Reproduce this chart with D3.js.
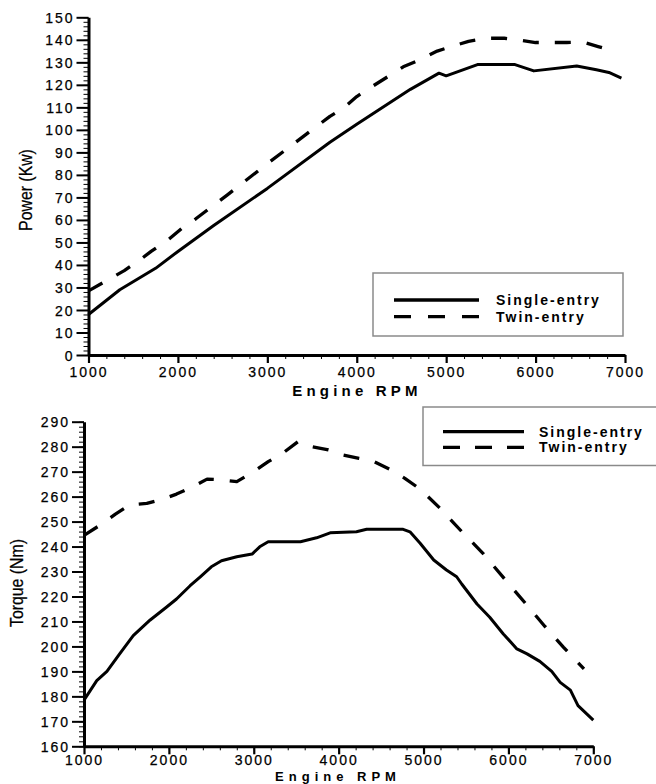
<!DOCTYPE html>
<html>
<head>
<meta charset="utf-8">
<script src="https://cdn.jsdelivr.net/npm/d3@7"></script>
<style>
  body { margin: 0; background: #fff; }
  svg { display: block; }
  text { font-family: "Liberation Sans", Arial, sans-serif; fill: #000; }
</style>
</head>
<body>
<svg id="chart" width="656" height="784"></svg>
<script>
// ---- Engine power (kW) versus engine speed ----
const powerRpmSingle = [1000, 1350, 1750, 2000, 2400, 3000, 3700, 4000, 4600, 4920, 5000, 5350, 5770, 5980, 6460, 6680, 6820, 6960];
const powerSingle    = [18, 29, 38.5, 46, 57.5, 74, 94.5, 102.5, 118, 125.2, 124, 129, 129, 126.2, 128.4, 126.7, 125.5, 123];

const powerRpmTwin = [1000, 1200, 1400, 1550, 1700, 1900, 2050, 2200, 2400, 2550, 3000, 3400, 3700, 3850, 4000, 4170, 4350, 4520, 4700, 4900, 5100, 5250, 5450, 5650, 5800, 6000, 6200, 6350, 6530, 6700, 6900];
const powerTwin    = [28.5, 33, 37.5, 41.5, 46, 51.5, 56.5, 60.5, 66.5, 71, 85, 97, 106, 109.6, 114.8, 119.2, 123.7, 128, 131, 135, 137.5, 139.3, 140.7, 140.7, 140, 138.8, 138.8, 138.8, 139, 137, 134.8];

// ---- Engine torque (Nm) versus engine speed ----
const torqueRpmSingle = [1000, 1150, 1270, 1420, 1580, 1780, 1970, 2090, 2250, 2370, 2500, 2620, 2800, 2980, 3070, 3170, 3550, 3740, 3900, 4210, 4330, 4760, 4840, 4960, 5120, 5270, 5390, 5450, 5630, 5780, 5940, 6100, 6220, 6370, 6510, 6610, 6730, 6820, 7000];
const torqueSingle    = [178.5, 186.3, 190, 197, 204.3, 210.6, 215.7, 219, 224.3, 227.9, 231.9, 234.3, 235.9, 237, 239.9, 241.9, 241.9, 243.5, 245.5, 245.9, 246.9, 246.9, 245.9, 241.3, 234.6, 230.6, 227.9, 225, 217, 211.7, 205, 199, 197, 194, 190, 185.6, 182.5, 176.3, 170.5];

const torqueRpmTwin = [1000, 1190, 1370, 1540, 1740, 1920, 2090, 2270, 2450, 2620, 2800, 3000, 3170, 3350, 3520, 3680, 3880, 4050, 4240, 4400, 4600, 4780, 4960, 5190, 5450, 5700, 5980, 6220, 6430, 6650, 6890];
const torqueTwin    = [244.5, 248.6, 253, 256.7, 257.3, 258.9, 261, 263.7, 267, 266.7, 266, 270, 274, 277.6, 282, 280, 278.7, 276.7, 275.3, 274.3, 271, 267.3, 263, 255.5, 246, 237.3, 226, 216.5, 208, 199.6, 191];

const rpmDomain = [1000, 7000];
const rpmMajorTicks = [1000, 2000, 3000, 4000, 5000, 6000, 7000];
const powerTicks  = [0, 10, 20, 30, 40, 50, 60, 70, 80, 90, 100, 110, 120, 130, 140, 150];
const torqueTicks = [160, 170, 180, 190, 200, 210, 220, 230, 240, 250, 260, 270, 280, 290];

const seriesNames = ["Single-entry", "Twin-entry"];
const xTitle = "Engine RPM";

const svg = d3.select("#chart");
const DASH = "16,16";

function drawPanel(cfg) {
  const g = svg.append("g");
  const x = d3.scaleLinear().domain(rpmDomain).range(cfg.xRange);
  const y = d3.scaleLinear().domain([cfg.yTicks[0], cfg.yTicks[cfg.yTicks.length - 1]]).range(cfg.yRange);

  // minor ticks: every 2 units on y, every 200 rpm on x
  const yMinor = d3.range(cfg.yTicks[0], cfg.yTicks[cfg.yTicks.length - 1] + 0.01, 2);
  const xMinor = d3.range(1000, 7001, 200);

  const yMin = g.append("g").attr("transform", `translate(${cfg.xRange[0]},0)`)
    .call(d3.axisLeft(y).tickValues(yMinor).tickSize(5).tickFormat(""));
  yMin.select(".domain").remove();
  yMin.selectAll("line").attr("stroke-width", 1);

  const xMin = g.append("g").attr("transform", `translate(0,${cfg.yRange[0]})`)
    .call(d3.axisBottom(x).tickValues(xMinor).tickSize(4).tickFormat(""));
  xMin.select(".domain").remove();
  xMin.selectAll("line").attr("stroke-width", 1);

  // major axes
  const yAx = g.append("g").attr("transform", `translate(${cfg.xRange[0]},0)`)
    .call(d3.axisLeft(y).tickValues(cfg.yTicks).tickSize(12).tickSizeOuter(0).tickPadding(2).tickFormat(d3.format("d")));
  yAx.select(".domain").attr("stroke-width", 3);
  yAx.selectAll("line").attr("stroke-width", 2);
  yAx.selectAll("text").style("font-size", "14px").style("letter-spacing", "2px").attr("dy", "0.36em")
    .attr("stroke", "#000").attr("stroke-width", 0.25);

  const xAx = g.append("g").attr("transform", `translate(0,${cfg.yRange[0]})`)
    .call(d3.axisBottom(x).tickValues(rpmMajorTicks).tickSize(8).tickSizeOuter(0).tickPadding(cfg.xTickPad).tickFormat(d3.format("d")));
  xAx.select(".domain").attr("stroke-width", 3);
  xAx.selectAll("line").attr("stroke-width", 2.2);
  xAx.selectAll("text").style("font-size", "14px").style("letter-spacing", "2px")
    .attr("stroke", "#000").attr("stroke-width", 0.25);

  // axis titles
  g.append("text")
    .attr("x", cfg.xTitlePos[0]).attr("y", cfg.xTitlePos[1])
    .attr("text-anchor", "middle")
    .style("font-size", cfg.xTitleSize + "px").style("font-weight", "bold")
    .style("letter-spacing", cfg.xTitleSpacing + "px")
    .text(xTitle);

  g.append("text")
    .attr("transform", `translate(${cfg.yTitlePos[0]},${cfg.yTitlePos[1]}) rotate(-90) scale(0.88,1)`)
    .attr("text-anchor", "middle")
    .style("font-size", "18px")
    .attr("stroke", "#000").attr("stroke-width", 0.25)
    .text(cfg.yTitle);

  // data lines
  const line = d3.line().x(d => x(d[0])).y(d => y(d[1]));
  g.append("path")
    .datum(d3.zip(cfg.rpmSingle, cfg.single))
    .attr("d", line)
    .attr("fill", "none").attr("stroke", "#000").attr("stroke-width", 3)
    .attr("stroke-linejoin", "round");
  g.append("path")
    .datum(d3.zip(cfg.rpmTwin, cfg.twin))
    .attr("d", line)
    .attr("fill", "none").attr("stroke", "#000").attr("stroke-width", 3.3)
    .attr("stroke-dasharray", DASH)
    .attr("stroke-linejoin", "round");

  // legend
  const L = cfg.legend;
  g.append("rect")
    .attr("x", L.x).attr("y", L.y).attr("width", L.w).attr("height", L.h)
    .attr("fill", "#fff").attr("stroke", "#8a8a8a").attr("stroke-width", 1.5);
  seriesNames.forEach((name, i) => {
    const ly = L.rowY[i];
    g.append("line")
      .attr("x1", L.lineX[0]).attr("x2", L.lineX[1]).attr("y1", ly).attr("y2", ly)
      .attr("stroke", "#000").attr("stroke-width", 3.3)
      .attr("stroke-dasharray", i === 1 ? L.dash : null);
    g.append("text")
      .attr("x", L.textX).attr("y", ly).attr("dy", "0.36em")
      .style("font-size", "14px").style("font-weight", "bold").style("letter-spacing", "2px")
      .text(name);
  });
}

drawPanel({
  xRange: [88.5, 625],
  yRange: [355, 17.3],
  yTicks: powerTicks,
  yTitle: "Power (Kw)",
  xTickPad: 4,
  xTitlePos: [357, 396],
  xTitleSize: 15, xTitleSpacing: 4.2,
  yTitlePos: [32, 190],
  rpmSingle: powerRpmSingle, single: powerSingle,
  rpmTwin: powerRpmTwin, twin: powerTwin,
  legend: { x: 373, y: 273, w: 250, h: 63, lineX: [394, 479], rowY: [300, 316.7], textX: 496, dash: "17,17" }
});

drawPanel({
  xRange: [84, 593.3],
  yRange: [746.3, 421.7],
  yTicks: torqueTicks,
  yTitle: "Torque (Nm)",
  xTickPad: 1,
  xTitlePos: [338, 781],
  xTitleSize: 13, xTitleSpacing: 5,
  yTitlePos: [23, 583],
  rpmSingle: torqueRpmSingle, single: torqueSingle,
  rpmTwin: torqueRpmTwin, twin: torqueTwin,
  legend: { x: 423, y: 407, w: 250, h: 58.5, lineX: [443, 524], rowY: [431.7, 447.3], textX: 539, dash: "17,15" }
});
</script>
</body>
</html>
